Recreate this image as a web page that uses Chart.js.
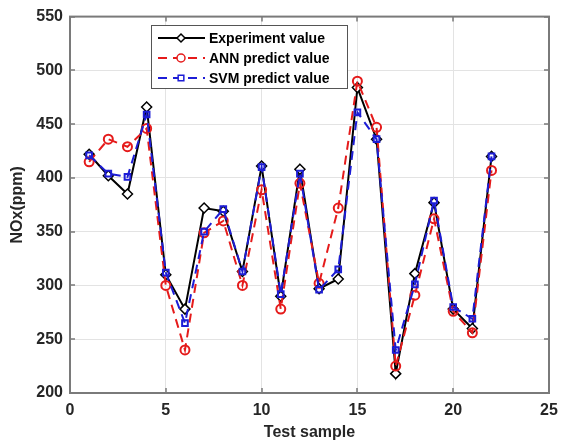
<!DOCTYPE html>
<html>
<head>
<meta charset="utf-8">
<script src="https://cdn.jsdelivr.net/npm/chart.js@4.4.0/dist/chart.umd.min.js"></script>
<style>
  html, body { margin: 0; padding: 0; background: #fff; }
  #wrap { width: 566px; height: 442px; }
</style>
</head>
<body>
<div id="wrap"><canvas id="myChart" width="566" height="442"></canvas></div>
<script>
// test sample index
var samples = [1,2,3,4,5,6,7,8,9,10,11,12,13,14,15,16,17,18,19,20,21,22]
// NOx (ppm)
var experiment = [422,402,385,466,310,278,372,369,313,411,290,408,297,306,484,436,218,311,377,278,260,420]
var annPredict = [415,436,429,446,300,240,349,360,300,389,278,395,302,372,490,447,225,291,362,276,256,407]
var svmPredict = [421,404,401,459,312,265,350,371,313,410,292,404,296,315,461,436,240,301,379,280,269,420]
var labels = ['Experiment value', 'ANN predict value', 'SVM predict value']

function toXY(vals){
  let out = []
  for (let i = 0; i < samples.length; i++) out.push({x: samples[i], y: vals[i]})
  return out
}

var FONT = 'Arial, "Liberation Sans", sans-serif'

// matlab style box + inward ticks
var boxPlugin = {
  id: 'box',
  afterDatasetsDraw(chart){
    const ctx = chart.ctx, a = chart.chartArea
    const xs = chart.scales.x, ys = chart.scales.y
    ctx.save()
    ctx.strokeStyle = '#7a7a7a'
    ctx.lineWidth = 1.5
    ctx.beginPath()
    xs.ticks.forEach(t => {
      let px = Math.round(xs.getPixelForValue(t.value))
      ctx.moveTo(px, a.bottom); ctx.lineTo(px, a.bottom - 5)
      ctx.moveTo(px, a.top); ctx.lineTo(px, a.top + 5)
    })
    ys.ticks.forEach(t => {
      let py = Math.round(ys.getPixelForValue(t.value))
      ctx.moveTo(a.left, py); ctx.lineTo(a.left + 5, py)
      ctx.moveTo(a.right, py); ctx.lineTo(a.right - 5, py)
    })
    ctx.stroke()
    ctx.lineWidth = 2
    ctx.strokeRect(a.left, a.top, a.right - a.left, a.bottom - a.top)
    ctx.restore()
  }
}

// legend box drawn inside the axes
var legendPlugin = {
  id: 'boxLegend',
  afterDraw(chart){
    const ctx = chart.ctx
    const bx = 151, by = 25, bw = 196, bh = 63
    ctx.save()
    ctx.fillStyle = '#fff'
    ctx.fillRect(bx, by, bw, bh)
    ctx.strokeStyle = '#555'
    ctx.lineWidth = 1
    ctx.strokeRect(bx + 0.5, by + 0.5, bw, bh)
    chart.data.datasets.forEach((ds, i) => {
      let y = by + 13 + i * 20
      ctx.strokeStyle = ds.borderColor
      ctx.lineWidth = ds.borderWidth
      ctx.setLineDash(ds.borderDash || [])
      ctx.beginPath()
      ctx.moveTo(158, y); ctx.lineTo(205, y)
      ctx.stroke()
      ctx.setLineDash([])
      ctx.fillStyle = '#fff'
      ctx.lineWidth = 1.5
      Chart.helpers.drawPoint(ctx, {pointStyle: ds.pointStyle, radius: 4, borderWidth: 1.5}, 181, y)
      ctx.fillStyle = '#000'
      ctx.font = 'bold 14px ' + FONT
      ctx.textBaseline = 'middle'
      ctx.fillText(ds.label, 209, y + 1)
    })
    ctx.restore()
  }
}

var ds = [
  {label: labels[0], data: toXY(experiment), borderColor: '#000000', backgroundColor: '#ffffff', order: 3,
   borderWidth: 2, pointStyle: 'rectRot', pointRadius: 5, pointBorderWidth: 1.5, pointBorderColor: '#000000'},
  {label: labels[1], data: toXY(annPredict), borderColor: '#e51b1b', backgroundColor: 'rgba(0,0,0,0)', order: 2,
   borderWidth: 2, borderDash: [9, 6], pointStyle: 'circle', pointRadius: 4.5, pointBorderWidth: 2, pointBorderColor: '#e51b1b'},
  {label: labels[2], data: toXY(svmPredict), borderColor: '#1d1dd6', backgroundColor: 'rgba(0,0,0,0)', order: 1,
   borderWidth: 2, borderDash: [9, 6], pointStyle: 'rect', pointRadius: 4, pointBorderWidth: 2, pointBorderColor: '#1d1dd6'}
]

var nox = new Chart(document.getElementById('myChart'), {
  type: 'line',
  data: { datasets: ds },
  options: {
    responsive: false,
    animation: false,
    layout: { padding: { left: 0, top: 15, right: 17, bottom: 0 } },
    plugins: { legend: { display: false }, tooltip: { enabled: false } },
    elements: { line: { tension: 0, fill: false } },
    scales: {
      x: {
        type: 'linear', min: 0, max: 25,
        ticks: { stepSize: 5, color: '#262626', font: { family: FONT, size: 16, weight: 'bold' }, padding: 8 },
        grid: { color: '#e3e3e3', drawTicks: false },
        border: { display: false },
        title: { display: true, text: 'Test sample', color: '#262626', font: { family: FONT, size: 16, weight: 'bold' }, padding: { top: 0, bottom: 0 } },
        afterFit(s){ s.height = 49 }
      },
      y: {
        min: 200, max: 550,
        ticks: { stepSize: 50, color: '#262626', font: { family: FONT, size: 16, weight: 'bold' }, padding: 7 },
        grid: { color: '#e3e3e3', drawTicks: false },
        border: { display: false },
        title: { display: true, text: 'NOx(ppm)', color: '#262626', font: { family: FONT, size: 16, weight: 'bold' }, padding: { top: 8, bottom: 0 } },
        afterFit(s){ s.width = 70 }
      }
    }
  },
  plugins: [boxPlugin, legendPlugin]
})
</script>
</body>
</html>
